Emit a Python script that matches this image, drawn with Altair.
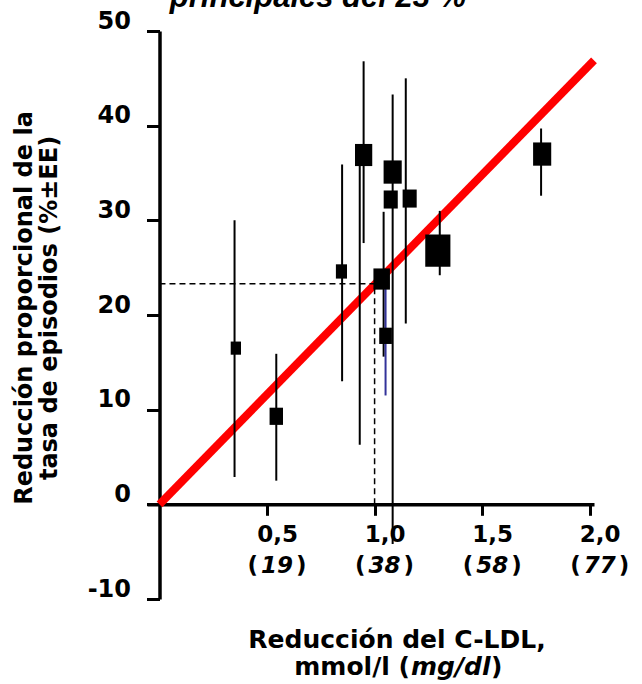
import altair as alt
import pandas as pd

# Ensayos: reducción del C-LDL (mmol/l), reducción proporcional de episodios (%)
# y peso relativo de cada ensayo (tamaño del cuadrado)
ensayo_ldl = [0.355, 0.543, 0.846, 0.949, 1.033, 1.051, 1.084, 1.075, 1.163, 1.294, 1.779]
ensayo_red = [16.5, 9.3, 24.6, 36.9, 23.8, 17.8, 35.1, 32.2, 32.3, 26.8, 37.0]
ensayo_peso = [1.7, 2.9, 2.0, 4.8, 4.4, 2.6, 5.3, 3.2, 3.2, 10.2, 5.3]

# Barras de error (±EE)
ee_ldl = [0.349, 0.543, 0.849, 0.949, 0.931, 1.042, 1.051, 1.084, 1.145, 1.303, 1.774]
ee_inf = [2.9, 2.5, 13.0, 27.6, 6.3, 15.6, 11.5, -4.2, 19.1, 24.2, 32.6]
ee_sup = [30.0, 15.9, 35.9, 46.8, 36.9, 30.9, 24.0, 43.3, 45.0, 31.0, 39.7]
ee_grupo = ["a", "a", "a", "a", "a", "a", "b", "a", "a", "a", "a"]

# Recta de regresión por el origen
recta_ldl = [0.0, 2.02]
recta_red = [0.0, 46.9]

# Referencia: 1 mmol/l -> 23 %
ref_ldl = [1.0]
ref_red = [23.3]

# Ejes
ticks_mmol = [0.5, 1.0, 1.5, 2.0]
ticks_mgdl = ["19", "38", "58", "77"]
ticks_y = [-10, 0, 10, 20, 30, 40, 50]

FONT = "DejaVu Sans"
W, H = 447, 568
LABEL_SHIFT = 10  # desplazamiento horizontal de las etiquetas del eje X

xs = alt.Scale(domain=[-0.058, 2.02], nice=False, zero=False)
ys = alt.Scale(domain=[-10, 50], nice=False, zero=False)

ax_x = alt.Axis(
    values=ticks_mmol, title=None, offset=-94.7, orient="bottom",
    labelExpr="replace(format(datum.value, '.1f'), '.', ',')",
    labelFont=FONT, labelFontSize=23, labelFontWeight="bold", labelColor="black",
    labelPadding=8, labelOffset=LABEL_SHIFT, tickSize=11, tickWidth=3, tickColor="black",
    domainWidth=3.5, domainColor="black", grid=False,
)
ax_y = alt.Axis(
    values=ticks_y, title=None, offset=-12.5, orient="left",
    labelExpr="toString(datum.value)",
    labelFont=FONT, labelFontSize=24, labelFontWeight="bold", labelColor="black",
    labelPadding=16, labelBaseline="alphabetic", labelOffset=-3,
    tickSize=13, tickWidth=3, tickColor="black",
    domainWidth=3.5, domainColor="black", grid=False,
)


def X(f):
    return alt.X(f, type="quantitative", scale=xs, axis=ax_x)


def Y(f):
    return alt.Y(f, type="quantitative", scale=ys, axis=ax_y)


df_ens = pd.DataFrame({"ldl": ensayo_ldl, "red": ensayo_red, "peso": ensayo_peso})
df_ee = pd.DataFrame({"ldl": ee_ldl, "inf": ee_inf, "sup": ee_sup, "g": ee_grupo})
df_recta = pd.DataFrame({"ldl": recta_ldl, "red": recta_red})
df_ref = pd.DataFrame({"ldl": ref_ldl, "red": ref_red, "cero": [0.0]})
df_ticks = pd.DataFrame({"ldl": ticks_mmol, "mg": ticks_mgdl})

recta = alt.Chart(df_recta).mark_line(color="#ff0000", strokeWidth=8, strokeCap="butt").encode(
    x=X("ldl"), y=Y("red")
)

ref_h = alt.Chart(df_ref).mark_rule(color="black", strokeWidth=1.5, strokeDash=[6, 4]).encode(
    x=X("cero"), x2="ldl", y=Y("red")
)
ref_v = alt.Chart(df_ref).mark_rule(color="black", strokeWidth=1.5, strokeDash=[6, 4]).encode(
    x=X("ldl"), y=Y("cero"), y2="red"
)

barras = alt.Chart(df_ee).mark_rule(strokeWidth=2).encode(
    x=X("ldl"), y=Y("inf"), y2="sup",
    color=alt.Color("g:N", scale=alt.Scale(domain=["a", "b"], range=["black", "#33339a"]), legend=None),
)

cuadro = "M-0.78,-1L0.78,-1L0.78,1L-0.78,1Z"
puntos = alt.Chart(df_ens).mark_point(
    shape=cuadro, filled=True, color="black", opacity=1, strokeWidth=0
).encode(
    x=X("ldl"), y=Y("red"),
    size=alt.Size("peso:Q", scale=alt.Scale(domain=[0, 10.2], range=[0, 1040], zero=True), legend=None),
)

# Segunda línea de las etiquetas del eje X: equivalente en mg/dl
mg_num = alt.Chart(df_ticks).mark_text(
    font=FONT, fontSize=23, fontWeight="bold", fontStyle="italic", baseline="middle",
    dx=LABEL_SHIFT, color="black"
).encode(x=X("ldl"), y=alt.value(535), text="mg:N")
mg_abre = alt.Chart(df_ticks).mark_text(
    font=FONT, fontSize=23, fontWeight="bold", baseline="middle", align="right",
    dx=LABEL_SHIFT - 19, color="black"
).encode(x=X("ldl"), y=alt.value(535), text=alt.value("("))
mg_cierra = alt.Chart(df_ticks).mark_text(
    font=FONT, fontSize=23, fontWeight="bold", baseline="middle", align="left",
    dx=LABEL_SHIFT + 19, color="black"
).encode(x=X("ldl"), y=alt.value(535), text=alt.value(")"))


def texto(t, x, y, **kw):
    base = dict(font=FONT, fontSize=25, fontWeight="bold", color="black", baseline="middle")
    base.update(kw)
    return alt.Chart(pd.DataFrame({"t": [t]})).mark_text(**base).encode(
        x=alt.value(x), y=alt.value(y), text="t:N"
    )


titulo_x1 = texto("Reducción del C-LDL,", 250, 609)
titulo_x2a = texto("mmol/l (", 263, 636, align="right")
titulo_x2b = texto("mg/dl", 264, 636, align="left", fontStyle="italic")
titulo_x2c = texto(")", 344, 636, align="left")

titulo_y1 = texto("Reducción proporcional de la", -122, 277, angle=270, fontSize=24)
titulo_y2 = texto("tasa de episodios (%±EE)", -97, 277, angle=270, fontSize=24)

titulo = texto("principales del 23 %", 171, -24, font="Liberation Sans", fontSize=31,
               fontStyle="italic", baseline="alphabetic")

chart = alt.layer(
    recta, ref_h, ref_v, barras, puntos,
    mg_num, mg_abre, mg_cierra,
    titulo_x1, titulo_x2a, titulo_x2b, titulo_x2c,
    titulo_y1, titulo_y2, titulo,
).properties(
    width=W, height=H,
    autosize=alt.AutoSizeParams(type="none"),
    padding={"left": 147, "top": 31, "right": 48, "bottom": 85},
    background="white",
).configure_view(stroke=None)

chart.save("out.html", embed_options={"renderer": "svg", "actions": False})
